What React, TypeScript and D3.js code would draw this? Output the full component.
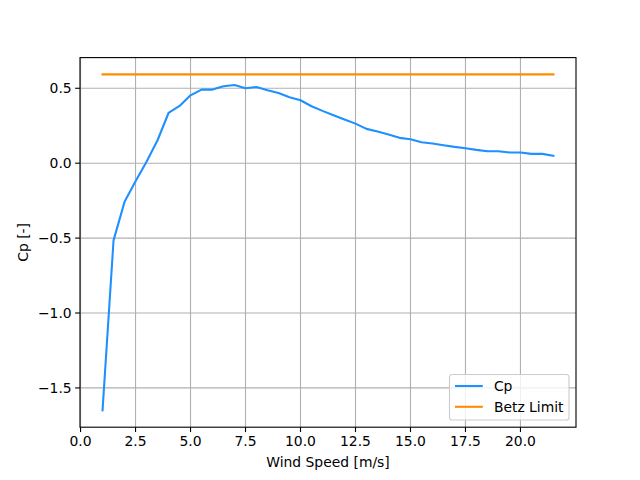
import React from "react";
import * as d3 from "d3";

const windSpeed = [1, 1.5, 2, 2.5, 3, 3.5, 4, 4.5, 5, 5.5, 6, 6.5, 7, 7.5, 8, 8.5, 9, 9.5, 10, 10.5, 11, 11.5, 12, 12.5, 13, 13.5, 14, 14.5, 15, 15.5, 16, 16.5, 17, 17.5, 18, 18.5, 19, 19.5, 20, 20.5, 21, 21.5];
const cpValues = [-1.65, -0.515, -0.258, -0.12, 0.01, 0.153, 0.335, 0.382, 0.453, 0.491, 0.491, 0.513, 0.522, 0.5, 0.509, 0.487, 0.469, 0.44, 0.42, 0.38, 0.349, 0.32, 0.291, 0.264, 0.229, 0.211, 0.191, 0.169, 0.16, 0.14, 0.131, 0.12, 0.109, 0.1, 0.089, 0.08, 0.08, 0.071, 0.071, 0.062, 0.062, 0.049];
const betz = 16 / 27;
const xTicks = [0, 2.5, 5, 7.5, 10, 12.5, 15, 17.5, 20];
const yTicks = [-1.5, -1.0, -0.5, 0.0, 0.5];
const seriesNames = ["Cp", "Betz Limit"];
const colors = ["#1E90FF", "#FF8C00"];

const W = 640, H = 480;
const L = 80, R = 576, T = 57.6, B = 427.2;

export default function App() {
  const xmin = 1, xmax = 21.5;
  const xm = (xmax - xmin) * 0.05;
  const ymin = d3.min(cpValues)!, ymax = betz;
  const ym = (ymax - ymin) * 0.05;
  const x = d3.scaleLinear().domain([xmin - xm, xmax + xm]).range([L, R]);
  const y = d3.scaleLinear().domain([ymin - ym, ymax + ym]).range([B, T]);
  const pts = windSpeed.map((w, i) => [w, cpValues[i]] as [number, number]);
  const line = d3.line<[number, number]>().x(d => x(d[0])).y(d => y(d[1]));
  const betzPts: [number, number][] = [[windSpeed[0], betz], [windSpeed[windSpeed.length - 1], betz]];
  const fmt = (v: number) => (v < 0 ? "\u2212" : "") + Math.abs(v).toFixed(1);
  const font = "DejaVu Sans, sans-serif";
  const fs = 13.9;
  const lw1 = 2.08;
  const thin = 1.11;
  const lx = 449.5, ly = 374.5, lw = 119.5, lh = 45.5;
  return (
    <svg width={W} height={H} style={{ display: "block", position: "absolute", left: 0, top: 0 }} fontFamily={font}>
      <rect width={W} height={H} fill="white" />
      <defs>
        <clipPath id="clip"><rect x={L} y={T} width={R - L} height={B - T} /></clipPath>
      </defs>
      {xTicks.map(t => (
        <line key={"gx" + t} x1={x(t)} x2={x(t)} y1={T} y2={B} stroke="#b0b0b0" strokeWidth={thin} />
      ))}
      {yTicks.map(t => (
        <line key={"gy" + t} x1={L} x2={R} y1={y(t)} y2={y(t)} stroke="#b0b0b0" strokeWidth={thin} />
      ))}
      <g clipPath="url(#clip)">
        <path d={line(pts)!} fill="none" stroke={colors[0]} strokeWidth={lw1} strokeLinejoin="round" strokeLinecap="square" />
        <path d={line(betzPts)!} fill="none" stroke={colors[1]} strokeWidth={lw1} strokeLinecap="square" />
      </g>
      <rect x={L} y={T} width={R - L} height={B - T} fill="none" stroke="black" strokeWidth={thin} />
      {xTicks.map(t => (
        <g key={"tx" + t}>
          <line x1={x(t)} x2={x(t)} y1={B} y2={B + 4.86} stroke="black" strokeWidth={thin} />
          <text x={x(t)} y={B + 18.5} textAnchor="middle" fontSize={fs} fill="black">{t.toFixed(1)}</text>
        </g>
      ))}
      {yTicks.map(t => (
        <g key={"ty" + t}>
          <line x1={L - 4.86} x2={L} y1={y(t)} y2={y(t)} stroke="black" strokeWidth={thin} />
          <text x={L - 8.3} y={y(t)} dy="0.35em" textAnchor="end" fontSize={fs} fill="black">{fmt(t)}</text>
        </g>
      ))}
      <text x={(L + R) / 2} y={467} textAnchor="middle" fontSize={fs} fill="black">Wind Speed [m/s]</text>
      <text transform={`translate(28,${(T + B) / 2}) rotate(-90)`} textAnchor="middle" fontSize={fs} fill="black">Cp [-]</text>
      <rect x={lx} y={ly} width={lw} height={lh} rx={2.8} fill="white" fillOpacity={0.8} stroke="#cccccc" strokeWidth={thin} />
      {seriesNames.map((n, i) => (
        <g key={n}>
          <line x1={lx + 5.5} x2={lx + 33.3} y1={ly + 11.5 + i * 20.8} y2={ly + 11.5 + i * 20.8} stroke={colors[i]} strokeWidth={lw1} />
          <text x={lx + 44.4} y={ly + 11.5 + i * 20.8} dy="0.35em" fontSize={fs} fill="black">{n}</text>
        </g>
      ))}
    </svg>
  );
}
